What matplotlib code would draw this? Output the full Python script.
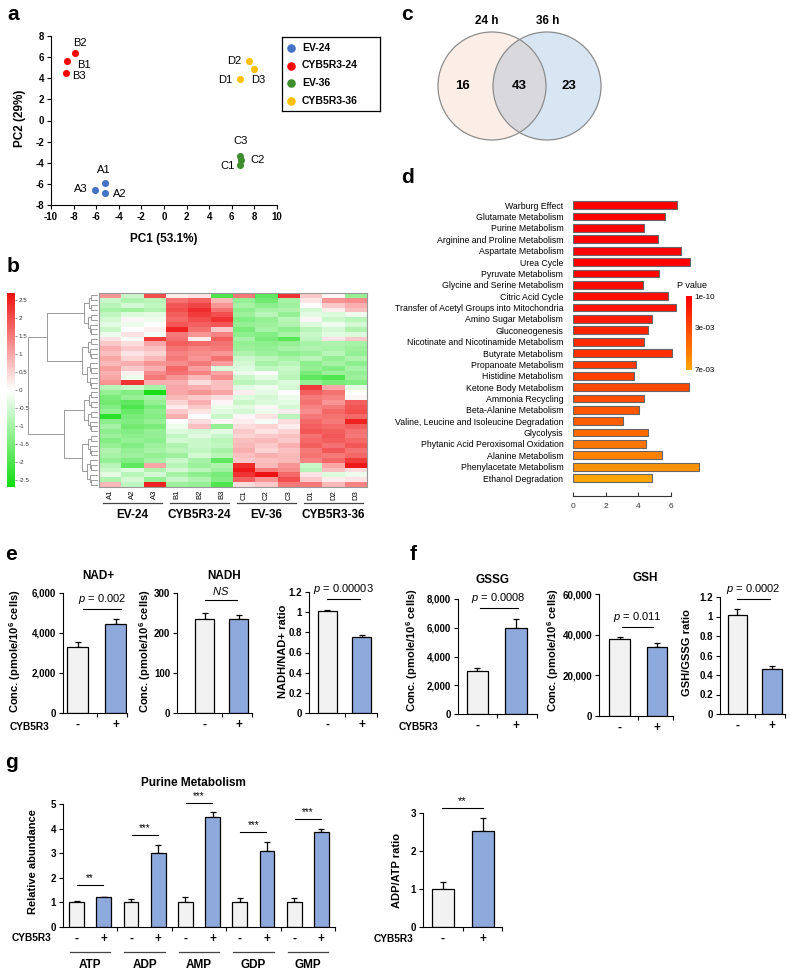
import numpy as np
import matplotlib
matplotlib.use('Agg')
import matplotlib.pyplot as plt
from matplotlib.colors import LinearSegmentedColormap, Normalize
from matplotlib.cm import ScalarMappable
from matplotlib.patches import Circle

plt.rcParams['font.family'] = ['Liberation Sans', 'DejaVu Sans']
plt.rcParams['mathtext.fontset'] = 'custom'
plt.rcParams['mathtext.rm'] = 'Liberation Sans'
plt.rcParams['mathtext.it'] = 'Liberation Sans:italic'
plt.rcParams['mathtext.bf'] = 'Liberation Sans:bold'
plt.rcParams['axes.linewidth'] = 0.8
plt.rcParams['axes.unicode_minus'] = False

# ---------------- data ----------------
# a: PCA scores
pca_groups = ['EV-24', 'CYB5R3-24', 'EV-36', 'CYB5R3-36']
pca_colors = ['#4472C4', '#FF0000', '#3E8E2E', '#FFC000']
pca_names = [['A1', 'A2', 'A3'], ['B1', 'B2', 'B3'], ['C1', 'C2', 'C3'], ['D1', 'D2', 'D3']]
pc1 = [[-5.2, -5.2, -6.1], [-8.6, -7.9, -8.7], [6.75, 6.8, 6.75], [6.75, 7.5, 7.95]]
pc2 = [[-5.9, -6.9, -6.55], [5.65, 6.4, 4.45], [-4.25, -3.75, -3.35], [3.95, 5.6, 4.85]]
name_dx = [[-0.15, 1.3, -1.3], [1.5, 0.5, 1.15], [-1.15, 1.45, 0.05], [-1.35, -1.25, 0.4]]
name_dy = [[1.2, -0.1, 0.1], [-0.35, 0.95, -0.25], [-0.05, 0.0, 1.4], [-0.1, 0.0, -1.0]]

# b: heatmap (z-scores)
samples = ['A1', 'A2', 'A3', 'B1', 'B2', 'B3', 'C1', 'C2', 'C3', 'D1', 'D2', 'D3']
heat = np.array([
    [1.2, -0.6, 2.0, 0.2, 0.3, -2.0, 1.5, -1.8, 2.3, 0.6, 0.1, -1.2],
    [-0.6, -0.9, -0.8, 1.6, 1.8, 0.8, -1.2, -1.6, -1.0, 0.3, 1.2, 1.3],
    [-0.8, -0.5, -0.7, 1.9, 2.1, 1.2, -1.0, -1.3, -1.1, 0.0, 0.6, 0.9],
    [-1.0, -1.1, -0.9, 2.0, 2.4, 1.6, -1.3, -1.0, -0.9, -0.5, 0.2, 0.7],
    [-0.7, -0.4, -0.3, 1.8, 2.2, 2.0, -1.1, -0.8, -1.2, -0.3, -0.4, -0.2],
    [-0.5, 0.1, -0.2, 1.7, 2.0, 2.3, -1.4, -1.2, -0.8, 0.1, -0.6, -0.8],
    [-0.3, -0.2, 0.0, 1.9, 1.8, 1.9, -1.2, -1.1, -0.9, -0.4, -0.2, -0.5],
    [-0.6, 0.0, 0.2, 2.5, 1.6, 0.6, -1.5, -1.0, -1.3, -0.8, -0.5, -0.9],
    [-0.2, 0.3, -0.1, 1.5, 1.2, 1.4, -1.3, -1.4, -1.0, -0.6, -0.3, -0.4],
    [0.3, -0.1, 2.2, 1.6, 0.2, 1.8, -1.0, -1.5, -1.9, -0.7, 0.3, 0.6],
    [0.6, 0.4, 1.0, 1.8, 1.7, 1.6, -1.2, -1.3, -1.2, -1.0, -0.9, -1.0],
    [0.9, 0.6, 0.7, 1.6, 1.4, 1.5, -1.1, -1.2, -1.0, -0.9, -1.0, -1.1],
    [0.7, 0.3, 0.5, 1.4, 1.3, 1.2, -0.9, -1.1, -1.3, -1.1, -0.8, -1.2],
    [1.0, 0.5, 0.8, 1.5, 1.2, 1.6, -0.6, -0.8, -1.0, -0.8, -1.2, -0.9],
    [0.8, 0.9, 1.2, 1.3, 1.5, 1.1, -0.5, -1.0, -0.8, -1.3, -1.0, -1.3],
    [1.1, 0.6, 0.9, 1.7, 1.1, -0.4, -0.4, -0.7, -0.6, -1.2, -1.4, -1.0],
    [0.9, 0.2, 1.3, 1.6, 1.4, 1.0, -0.2, 0.0, -0.7, -1.5, -1.1, -1.2],
    [1.0, -0.2, 1.5, 1.2, 0.8, 1.3, -0.6, -0.3, -0.8, -1.8, -2.0, -1.1],
    [1.2, 2.3, 0.9, 0.9, 0.4, 0.7, -0.8, -0.6, -0.4, -1.2, -1.5, -1.4],
    [-0.8, -0.6, -1.0, 1.0, 0.9, 0.7, -0.3, -0.2, -0.5, 2.2, 1.0, -0.3],
    [-1.2, -1.4, -2.6, 1.0, 1.2, 1.0, 0.2, -0.3, 0.0, 1.8, 1.6, 0.0],
    [-1.5, -1.2, -1.0, 0.8, 0.6, 0.4, -0.4, -0.5, -0.2, 1.5, 1.4, 0.1],
    [-1.6, -1.8, -1.2, 0.5, 0.9, 0.1, -0.6, -0.4, -0.3, 1.6, 1.2, 1.8],
    [-1.4, -2.0, -1.5, 0.2, 0.6, -0.2, -0.3, 0.1, -0.5, 1.4, 1.5, 1.9],
    [-1.2, -1.7, -1.3, 0.6, 0.3, -0.3, -0.5, -0.2, 0.2, 1.3, 1.7, 2.0],
    [-2.4, -1.5, -1.4, 0.9, 0.0, -0.6, 0.1, 0.3, -0.8, 1.5, 1.6, 1.7],
    [-1.3, -1.4, -1.2, 0.0, 0.4, 0.1, 0.2, -0.1, 0.4, 1.7, 1.5, 2.5],
    [-1.0, -1.6, -1.5, -0.2, 0.7, -1.2, 0.4, 0.5, 0.2, 1.8, 1.7, 1.8],
    [-1.3, -1.4, -1.2, -0.4, -0.5, -0.3, 0.6, 0.3, 0.5, 1.9, 1.8, 1.6],
    [-1.1, -1.3, -1.2, -0.7, -0.3, -0.6, 0.5, 0.6, 0.7, 1.6, 1.9, 1.5],
    [-1.4, -1.2, -1.3, -0.5, -0.6, -0.8, 0.7, 0.8, 0.6, 1.7, 1.8, 1.7],
    [-1.2, -1.4, -1.1, -0.9, -0.6, -0.7, 0.8, 0.6, 0.9, 1.8, 1.6, 1.9],
    [-0.9, -1.2, -1.0, -0.8, -0.7, -1.0, 0.9, 0.5, 0.7, 1.5, 1.9, 1.6],
    [-1.0, -1.1, -1.2, -1.1, -0.5, -0.8, 0.7, 0.9, 0.8, 1.6, 1.5, 1.7],
    [-1.2, -1.4, -1.0, -0.6, -1.0, -1.8, 0.6, 0.7, 0.8, 1.4, 1.7, 2.2],
    [-0.8, -1.8, 1.0, -0.8, -1.1, -0.9, 2.4, 0.8, 1.2, -0.6, 1.0, 2.6],
    [-0.6, -0.4, -0.9, -0.5, -0.8, -1.1, 2.6, 1.5, 1.3, -0.8, 0.7, 0.4],
    [-0.3, -0.8, -0.5, -1.0, -1.3, -1.5, 2.3, 2.7, 1.7, 0.3, -0.4, -0.2],
    [-0.9, -0.5, -1.2, -0.6, -0.9, -1.4, 1.8, 1.2, 2.0, 0.6, 0.2, 0.3],
    [0.8, -0.7, 2.5, -1.1, -1.2, -2.0, 0.4, 0.6, 1.5, 1.5, 0.8, 1.4],
])
cbar_ticks = [2.5, 2, 1.5, 1, 0.5, 0, -0.5, -1, -1.5, -2, -2.5]

# c: Venn
venn_sets = ['24 h', '36 h']
venn_counts = [16, 43, 23]

# d: pathway enrichment
pathways = ['Warburg Effect', 'Glutamate Metabolism', 'Purine Metabolism',
            'Arginine and Proline Metabolism', 'Aspartate Metabolism', 'Urea Cycle',
            'Pyruvate Metabolism', 'Glycine and Serine Metabolism', 'Citric Acid Cycle',
            'Transfer of Acetyl Groups into Mitochondria', 'Amino Sugar Metabolism',
            'Gluconeogenesis', 'Nicotinate and Nicotinamide Metabolism', 'Butyrate Metabolism',
            'Propanoate Metabolism', 'Histidine Metabolism', 'Ketone Body Metabolism',
            'Ammonia Recycling', 'Beta-Alanine Metabolism',
            'Valine, Leucine and Isoleucine Degradation', 'Glycolysis',
            'Phytanic Acid Peroxisomal Oxidation', 'Alanine Metabolism',
            'Phenylacetate Metabolism', 'Ethanol Degradation']
enrichment = [6.37, 5.69, 4.39, 5.26, 6.62, 7.18, 5.30, 4.33, 5.84, 6.35, 4.89, 4.64, 4.39,
              6.10, 3.90, 3.77, 7.13, 4.37, 4.08, 3.07, 4.62, 4.47, 5.48, 7.75, 4.89]
pathway_p = [1e-10, 2e-6, 5e-6, 1.5e-5, 3e-5, 8e-5, 2e-4, 4e-4, 6e-4, 8e-4, 1.1e-3, 1.5e-3,
             1.8e-3, 2.1e-3, 2.4e-3, 2.7e-3, 3.0e-3, 3.3e-3, 3.7e-3, 4.0e-3, 4.5e-3, 5.0e-3,
             5.5e-3, 6.2e-3, 7.0e-3]

# e, f: concentrations (EV, CYB5R3)
nad = [3320, 4450]; nad_err = [230, 230]
nadh = [234, 234]; nadh_err = [15, 11]
nadh_ratio = [1.015, 0.757]; nadh_ratio_err = [0.004, 0.02]
gssg = [3010, 6000]; gssg_err = [210, 580]
gsh = [37700, 34100]; gsh_err = [1000, 1650]
gsh_ratio = [1.012, 0.46]; gsh_ratio_err = [0.07, 0.03]

# g: purine metabolism
nucleotides = ['ATP', 'ADP', 'AMP', 'GDP', 'GMP']
purine_ev = [1.0, 1.0, 1.0, 1.0, 1.0]
purine_ev_err = [0.05, 0.14, 0.2, 0.18, 0.18]
purine_cyb = [1.2, 3.02, 4.47, 3.1, 3.87]
purine_cyb_err = [0.02, 0.33, 0.2, 0.36, 0.11]
purine_stars = ['**', '***', '***', '***', '***']
purine_sig_y = [1.72, 3.74, 5.05, 3.88, 4.38]
adp_atp = [1.0, 2.53]; adp_atp_err = [0.19, 0.34]

# ---------------- figure ----------------
W, H = 790, 973
fig = plt.figure(figsize=(W / 100, H / 100), dpi=100)
LIGHT = '#F2F2F2'
BLUE = '#8EA9DB'


def px_axes(l, t, r, b):
    return fig.add_axes([l / W, 1 - b / H, (r - l) / W, (b - t) / H])


def ftext(x, y, s, **kw):
    fig.text(x / W, 1 - y / H, s, **kw)


for letter, (x, y) in zip('abcdefg', [(13, 15), (13, 266), (407, 14), (408, 178),
                                      (11, 555), (413, 554), (11, 762)]):
    ftext(x, y, letter, fontsize=15, fontweight='bold', ha='center', va='center')

# ---- a ----
ax = px_axes(51, 36, 277, 205)
for g in range(4):
    ax.scatter(pc1[g], pc2[g], s=26, color=pca_colors[g], zorder=3, linewidths=0)
    for k in range(3):
        ax.text(pc1[g][k] + name_dx[g][k], pc2[g][k] + name_dy[g][k], pca_names[g][k],
                fontsize=8, ha='center', va='center')
ax.set_xlim(-10, 10)
ax.set_ylim(-8, 8)
ax.set_xticks(range(-10, 11, 2))
ax.set_yticks(range(-8, 9, 2))
ax.tick_params(labelsize=7, length=3, width=0.8, pad=2)
for lab in ax.get_xticklabels() + ax.get_yticklabels():
    lab.set_fontweight('bold')
ax.spines['top'].set_visible(False)
ax.spines['right'].set_visible(False)
ftext(20, 118, 'PC2 (29%)', rotation=90, fontsize=8.5, fontweight='bold', ha='center',
      va='center')
ftext(164, 239, 'PC1 (53.1%)', fontsize=8.5, fontweight='bold', ha='center', va='center')

# legend box drawn as its own small axes
axl = px_axes(282, 37, 380, 111)
axl.set_xlim(0, 98)
axl.set_ylim(74, 0)
axl.set_xticks([])
axl.set_yticks([])
for s in axl.spines.values():
    s.set_linewidth(0.9)
for i, (gname, col) in enumerate(zip(pca_groups, pca_colors)):
    yy = 11 + i * 17.5
    axl.scatter([9], [yy], s=38, color=col, linewidths=0)
    axl.text(20, yy, gname, fontsize=7.5, fontweight='bold', va='center', ha='left')

# ---- b ----
hcmap = LinearSegmentedColormap.from_list('gwr', ['#11DD11', '#FFFFFF', '#EE1111'])
axh = px_axes(99, 293, 367, 487)
im = axh.imshow(heat, aspect='auto', cmap=hcmap, vmin=-2.7, vmax=2.7, interpolation='nearest')
axh.set_xticks(range(len(samples)))
axh.set_xticklabels(samples, rotation=90, fontsize=5.5)
axh.set_yticks([])
axh.tick_params(axis='x', length=0, pad=2)
for s in axh.spines.values():
    s.set_color('#999999')
    s.set_linewidth(0.8)
tr = axh.get_xaxis_transform()
for gi, gname in enumerate(['EV-24', 'CYB5R3-24', 'EV-36', 'CYB5R3-36']):
    c = gi * 3 + 1
    axh.plot([c - 1.3, c + 1.3], [-0.082, -0.082], color='#444444', lw=0.9,
             transform=tr, clip_on=False)
    axh.text(c, -0.145, gname, transform=tr, ha='center', va='center', fontsize=8.5,
             fontweight='bold')

cax = px_axes(7, 293, 15, 487)
cb = fig.colorbar(im, cax=cax)
cb.set_ticks(cbar_ticks)
cb.set_ticklabels([f'{v:g}' for v in cbar_ticks])
cb.outline.set_visible(False)
cax.tick_params(labelsize=4.5, length=1.5, width=0.4, pad=1, colors='#333333')

axdn = px_axes(28, 293, 98, 487)
axdn.set_xlim(1.0, -0.02)
axdn.set_ylim(heat.shape[0] - 0.5, -0.5)
axdn.axis('off')


def dendro(ax, lo, hi, h=None):
    n = hi - lo
    if n == 1:
        return lo, 0.0
    cut = lo + max(1, int(round(n * 0.45)))
    y1, h1 = dendro(ax, lo, cut)
    y2, h2 = dendro(ax, cut, hi)
    if h is None:
        h = 0.03 + 0.3 * (n / 20) ** 0.8
    ax.plot([h1, h, h, h2], [y1, y1, y2, y2], color='#8C8C8C', lw=0.6)
    return (y1 + y2) / 2, h


yt, ht = dendro(axdn, 0, 20, 0.73)
yb, hb = dendro(axdn, 20, 40, 0.48)
axdn.plot([ht, 1.0, 1.0, hb], [yt, yt, yb, yb], color='#8C8C8C', lw=0.6)

# ---- c ----
axc = px_axes(420, 10, 640, 150)
axc.set_xlim(420, 640)
axc.set_ylim(150, 10)
axc.axis('off')
left = Circle((492, 86), 54, facecolor='#FBEEE6', edgecolor='none')
right = Circle((547, 86), 54, facecolor='#D8E6F4', edgecolor='none')
axc.add_patch(left)
axc.add_patch(right)
overlap = Circle((547, 86), 54, facecolor='#D9D9DD', edgecolor='none')
axc.add_patch(overlap)
overlap.set_clip_path(left)
for cx in (492, 547):
    axc.add_patch(Circle((cx, 86), 54, facecolor='none', edgecolor='#8C8C8C', lw=0.9))
axc.text(487, 21, venn_sets[0], ha='center', va='center', fontsize=8.5, fontweight='bold')
axc.text(548, 21, venn_sets[1], ha='center', va='center', fontsize=8.5, fontweight='bold')
for x, v in zip([463, 519, 569], venn_counts):
    axc.text(x, 86, str(v), ha='center', va='center', fontsize=9.5, fontweight='bold')

# ---- d ----
pnorm = Normalize(0, 7e-3)
pcmap = LinearSegmentedColormap.from_list('pv', ['#FF0000', '#FFA500'])
axd = px_axes(573, 199, 703, 496)
yd = np.arange(len(pathways))
axd.barh(yd, enrichment, height=0.68, color=pcmap(pnorm(pathway_p)), edgecolor='#666666',
         linewidth=0.8)
axd.set_ylim(len(pathways) - 1 + 1.58, -0.55)
axd.set_xlim(0, 8)
axd.set_yticks(yd)
axd.set_yticklabels(pathways, fontsize=6.3)
axd.tick_params(axis='y', length=0, pad=7)
axd.set_xticks([0, 2, 4, 6])
axd.tick_params(axis='x', direction='in', length=3, width=0.8, labelsize=6, pad=5,
                colors='#333333')
for s in ['left', 'top', 'right']:
    axd.spines[s].set_visible(False)
axd.spines['bottom'].set_bounds(0, 6)
axd.spines['bottom'].set_color('#333333')

pcax = px_axes(686, 296, 692, 370)
pcb = fig.colorbar(ScalarMappable(norm=pnorm, cmap=pcmap), cax=pcax)
pcax.invert_yaxis()
pcb.set_ticks([1e-10, 3e-3, 7e-3])
pcb.set_ticklabels(['1e-10', '3e-03', '7e-03'])
pcb.outline.set_visible(False)
pcax.tick_params(length=0, labelsize=5.8, pad=2)
ftext(677, 285, 'P value', fontsize=6.5, ha='left', va='center')


# ---- e, f, g bar panels ----
def style_axes(ax):
    for s in ['top', 'right']:
        ax.spines[s].set_visible(False)
    ax.tick_params(axis='y', length=3, width=0.8, pad=2, labelsize=7)
    for lab in ax.get_yticklabels():
        lab.set_fontweight('bold')


def pair_panel(box, xlim, vals, errs, ymax, yticks, yticklabels, sig):
    ax = px_axes(*box)
    ax.bar([0, 1], vals, width=0.55, color=[LIGHT, BLUE], edgecolor='black', linewidth=0.9,
           zorder=2)
    ax.errorbar([0, 1], vals, yerr=[[0, 0], errs], fmt='none', ecolor='black',
                elinewidth=0.9, capsize=2.2, capthick=0.9, zorder=1)
    ax.set_xlim(*xlim)
    ax.set_ylim(0, ymax)
    ax.set_yticks(yticks)
    ax.set_yticklabels(yticklabels)
    ax.set_xticks([0, 1])
    ax.set_xticklabels(['-', '+'], fontsize=8.5, fontweight='bold')
    ax.set_xticks([0.5, xlim[1]], minor=True)
    ax.tick_params(axis='x', which='major', length=0, pad=4)
    ax.tick_params(axis='x', which='minor', length=3, width=0.8)
    style_axes(ax)
    x1, x2, y, text = sig
    ax.plot([x1, x2], [y, y], color='black', lw=0.8, clip_on=False)
    ax.text((x1 + x2) / 2, y + ymax * 0.025, text, ha='center', va='bottom', fontsize=8,
            clip_on=False)
    return ax


conc = r'Conc. (pmole/10$^{\mathbf{6}}$ cells)'
thou = lambda vs: [f'{v:,}' for v in vs]

pair_panel((63, 593, 127, 713), (-0.38, 1.29), nad, nad_err, 6000, [0, 2000, 4000, 6000],
           thou([0, 2000, 4000, 6000]), (0.14, 1.13, 5200, r'$p$ = 0.002'))
pair_panel((177, 593, 252, 713), (-0.8, 1.38), nadh, nadh_err, 300, [0, 100, 200, 300],
           ['0', '100', '200', '300'], (0.0, 0.94, 282, r'$NS$'))
pair_panel((309, 592, 377, 713), (-0.54, 1.45), nadh_ratio, nadh_ratio_err, 1.2,
           [0, 0.2, 0.4, 0.6, 0.8, 1.0, 1.2], ['0', '0.2', '0.4', '0.6', '0.8', '1', '1.2'],
           (0.0, 0.94, 1.13, r'$p$ = 0.00003'))
pair_panel((458, 599, 537, 714), (-0.5, 1.54), gssg, gssg_err, 8000,
           [0, 2000, 4000, 6000, 8000], thou([0, 2000, 4000, 6000, 8000]),
           (0.06, 1.04, 7374, r'$p$ = 0.0008'))
pair_panel((599, 594, 673, 716), (-0.55, 1.43), gsh, gsh_err, 60000,
           [0, 20000, 40000, 60000], thou([0, 20000, 40000, 60000]),
           (0.07, 0.89, 43770, r'$p$ = 0.011'))
pair_panel((720, 597, 785, 714), (-0.49, 1.37), gsh_ratio, gsh_ratio_err, 1.2,
           [0, 0.2, 0.4, 0.6, 0.8, 1.0, 1.2], ['0', '0.2', '0.4', '0.6', '0.8', '1', '1.2'],
           (0.0, 0.94, 1.18, r'$p$ = 0.0002'))
pair_panel((423, 813, 502, 927), (-0.5, 1.48), adp_atp, adp_atp_err, 3, [0, 1, 2, 3],
           ['0', '1', '2', '3'], (-0.03, 1.0, 3.12, '**'))

for x, y, s in [(98, 576, 'NAD+'), (224, 576, 'NADH'), (492, 580, 'GSSG'), (645, 578, 'GSH'),
                (193, 783, 'Purine Metabolism')]:
    ftext(x, y, s, fontsize=8.5, fontweight='bold', ha='center', va='center')
for x, y, s in [(15, 651, conc), (145, 651, conc), (283, 651, 'NADH/NAD+ ratio'),
                (412, 650, conc), (553, 650, conc), (687, 653, 'GSH/GSSG ratio'),
                (33, 862, 'Relative abundance'), (397, 870, 'ADP/ATP ratio')]:
    ftext(x, y, s, rotation=90, fontsize=8, fontweight='bold', ha='center', va='center')
for x, y in [(30, 727), (418, 727), (31, 938), (394, 939)]:
    ftext(x, y, 'CYB5R3', fontsize=7.3, fontweight='bold', ha='center', va='center')

# g: purine bars
axg = px_axes(63, 804, 335, 927)
xg = np.arange(len(nucleotides))
axg.bar(xg - 0.25, purine_ev, width=0.27, color=LIGHT, edgecolor='black', linewidth=0.9,
        zorder=2)
axg.bar(xg + 0.25, purine_cyb, width=0.27, color=BLUE, edgecolor='black', linewidth=0.9,
        zorder=2)
axg.errorbar(xg - 0.25, purine_ev, yerr=[np.zeros(5), purine_ev_err], fmt='none',
             ecolor='black', elinewidth=0.9, capsize=2, capthick=0.9, zorder=1)
axg.errorbar(xg + 0.25, purine_cyb, yerr=[np.zeros(5), purine_cyb_err], fmt='none',
             ecolor='black', elinewidth=0.9, capsize=2, capthick=0.9, zorder=1)
for i in range(len(nucleotides)):
    axg.plot([i - 0.24, i + 0.24], [purine_sig_y[i]] * 2, color='black', lw=0.8, clip_on=False)
    axg.text(i, purine_sig_y[i] + 0.08, purine_stars[i], ha='center', va='bottom', fontsize=7,
             clip_on=False)
axg.set_xlim(-0.5, len(nucleotides) - 0.5)
axg.set_ylim(0, 5)
axg.set_yticks(range(6))
axg.set_yticklabels([str(v) for v in range(6)])
axg.set_xticks(np.concatenate([xg - 0.25, xg + 0.25]))
axg.set_xticklabels(['-'] * 5 + ['+'] * 5, fontsize=8.5, fontweight='bold')
axg.set_xticks(np.arange(0.5, len(nucleotides), 1.0), minor=True)
axg.tick_params(axis='x', which='major', length=0, pad=4)
axg.tick_params(axis='x', which='minor', length=3, width=0.8)
style_axes(axg)
trg = axg.get_xaxis_transform()
for i, name in enumerate(nucleotides):
    axg.plot([i - 0.37, i + 0.37], [-0.203, -0.203], color='#444444', lw=0.9, transform=trg,
             clip_on=False)
    axg.text(i, -0.31, name, transform=trg, ha='center', va='center', fontsize=8.5,
             fontweight='bold')

fig.savefig('out.png', dpi=100)
